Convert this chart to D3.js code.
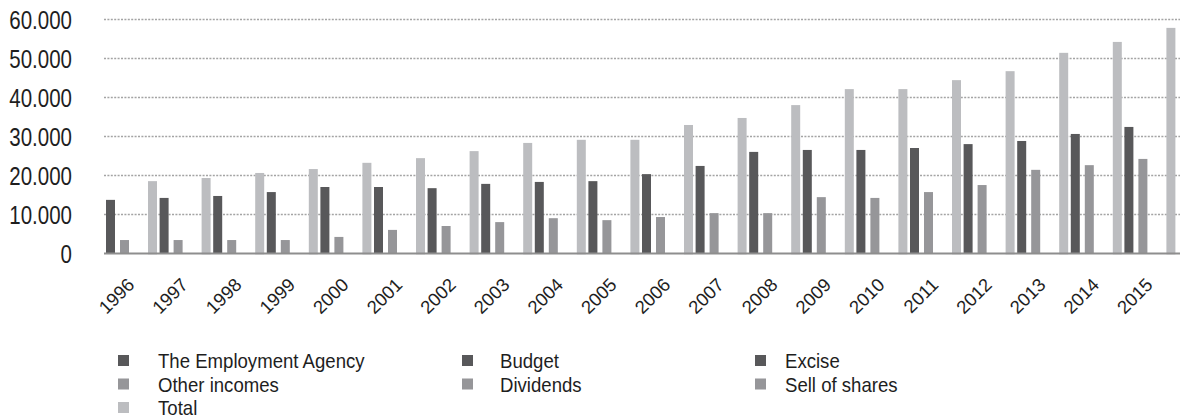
<!DOCTYPE html>
<html>
<head>
<meta charset="utf-8">
<script src="https://cdn.jsdelivr.net/npm/d3@7/dist/d3.min.js"></script>
<style>
  html, body { margin: 0; padding: 0; background: #ffffff; }
  svg { display: block; }
  text { font-family: "Liberation Sans", Arial, sans-serif; fill: #1e1e1e; }
</style>
</head>
<body>
<svg id="chart" width="1180" height="420"></svg>
<script>
// ---------- data ----------
const years = ["1996","1997","1998","1999","2000","2001","2002","2003","2004","2005",
               "2006","2007","2008","2009","2010","2011","2012","2013","2014","2015"];

const budget        = [13700,14200,14700,15700,17000,17000,16700,17800,18300,18500,
                       20300,22400,26000,26500,26500,27000,28000,28800,30600,32400];
const employment    = [0,0,0,0,0,0,0,0,0,0,0,0,0,0,0,0,0,0,0,0];
const otherIncomes  = [3400,3400,3400,3400,4200,6000,7000,8000,9000,8500,
                       9300,10300,10300,14400,14200,15700,17500,21400,22600,24200];
const excise        = [0,0,0,0,0,0,0,0,0,0,0,0,0,0,0,0,0,0,0,0];
const dividends     = [0,0,0,0,0,0,0,0,0,0,0,0,0,0,0,0,0,0,0,0];
const sellOfShares  = [0,0,0,0,0,0,0,0,0,0,0,0,0,0,0,0,0,0,0,0];
const total         = [18500,19300,20600,21600,23200,24400,26200,28300,29100,29100,
                       32900,34700,38000,42100,42100,44400,46700,51400,54200,57800];

const yTicks = [0,10000,20000,30000,40000,50000,60000];
const yTickLabels = ["0","10.000","20.000","30.000","40.000","50.000","60.000"];

// series in plotting order within a year group
const seriesNames = ["Budget","The Employment Agency","Other incomes","Excise","Dividends","Sell of shares","Total"];
const seriesValues = [budget, employment, otherIncomes, excise, dividends, sellOfShares, total];

// legend order (row-major, 3 columns)
const legendNames = ["The Employment Agency","Budget","Excise","Other incomes","Dividends","Sell of shares","Total"];

// ---------- styles ----------
const DARK = "#58585a", MID = "#969699", LIGHT = "#bcbdc0";
const colorOf = {
  "The Employment Agency": DARK, "Budget": DARK, "Excise": DARK,
  "Other incomes": MID, "Dividends": MID, "Sell of shares": MID,
  "Total": LIGHT
};

const svg = d3.select("#chart");

const x0 = d3.scaleBand().domain(years).range([104.7, 1176.7]).paddingInner(0).paddingOuter(0);
const x1 = d3.scaleBand().domain(seriesNames).range([1.3, 50.3]).padding(0);
const barW = 9;
const y = d3.scaleLinear().domain([0, 60000]).range([253.3, 19.3]);

// gridlines
svg.append("g").selectAll("line").data(yTicks.filter(d => d > 0)).join("line")
  .attr("x1", 104).attr("x2", 1180)
  .attr("y1", d => Math.round(y(d)) + 0.5).attr("y2", d => Math.round(y(d)) + 0.5)
  .attr("stroke", "#a4a4a4").attr("stroke-width", 1.5).attr("stroke-dasharray", "2,1.4");

// y labels
const yAxis = svg.append("g");
yAxis.selectAll("text").data(yTicks).join("text")
  .attr("transform", d => `translate(72,${y(d) + 10}) scale(0.82,1)`)
  .attr("text-anchor", "end")
  .attr("font-size", 25)
  .text((d, i) => yTickLabels[i]);

// bars
const flat = [];
years.forEach((yr, i) => seriesNames.forEach((s, j) => flat.push({year: yr, series: s, value: seriesValues[j][i]})));
svg.append("g").selectAll("rect").data(flat.filter(d => d.value > 0)).join("rect")
  .attr("x", d => x0(d.year) + x1(d.series))
  .attr("width", barW)
  .attr("y", d => y(d.value))
  .attr("height", d => y(0) - y(d.value) + (d.series === "Total" ? 1 : 0))
  .attr("fill", d => colorOf[d.series]);

// baseline
svg.append("line").attr("x1", 104).attr("x2", 1180)
  .attr("y1", 253.5).attr("y2", 253.5)
  .attr("stroke", "#8e8e8e").attr("stroke-width", 2);

// x labels
svg.append("g").selectAll("text").data(years).join("text")
  .attr("transform", d => `translate(${x0(d) + x0.bandwidth() / 2 + 4},286) rotate(-45)`)
  .attr("text-anchor", "end")
  .attr("font-size", 18.5)
  .text(d => d);

// legend
const colX = [[118, 158], [462, 500], [755, 785]];
const rowY = [368, 391.5, 415];
const leg = svg.append("g").selectAll("g").data(legendNames).join("g")
  .attr("transform", (d, i) => `translate(0,${rowY[Math.floor(i / 3)]})`);
leg.append("rect")
  .attr("x", (d, i) => colX[i % 3][0]).attr("y", -13)
  .attr("width", 11).attr("height", 11)
  .attr("fill", d => colorOf[d]);
leg.append("text")
  .attr("transform", (d, i) => `translate(${colX[i % 3][1]},0) scale(0.93,1)`)
  .attr("font-size", 20)
  .text(d => d);
</script>
</body>
</html>
